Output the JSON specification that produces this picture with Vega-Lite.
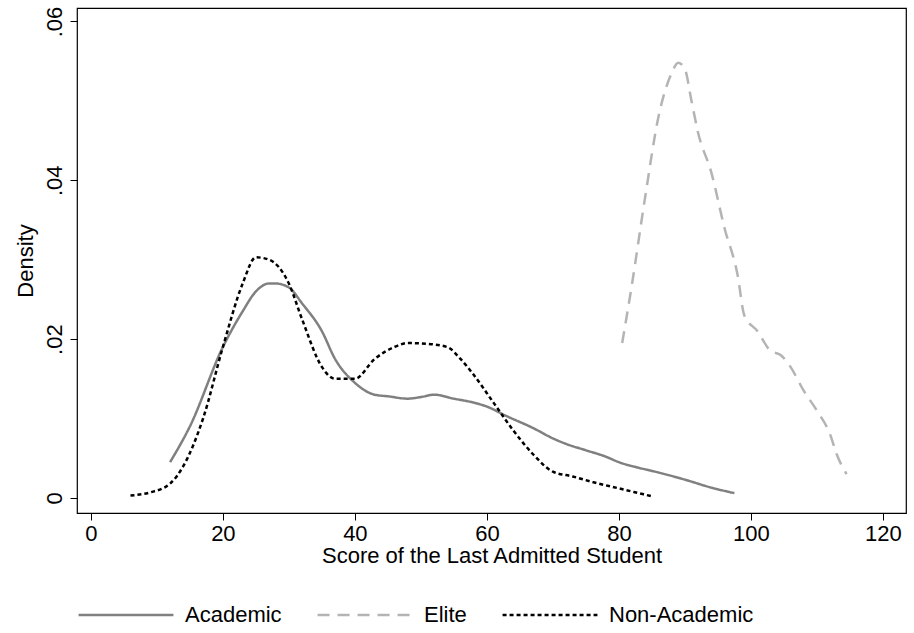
{
  "$schema": "https://vega.github.io/schema/vega-lite/v6.json",
  "width": 829,
  "height": 505,
  "autosize": "none",
  "padding": {"left": 77, "top": 8, "right": 7, "bottom": 120},
  "background": "white",
  "data": {
    "values": [
      {"group": "Academic", "score": 12, "density": 0.0045},
      {"group": "Academic", "score": 15, "density": 0.009},
      {"group": "Academic", "score": 20, "density": 0.019},
      {"group": "Academic", "score": 23, "density": 0.0235},
      {"group": "Academic", "score": 25, "density": 0.026},
      {"group": "Academic", "score": 27, "density": 0.027},
      {"group": "Academic", "score": 28, "density": 0.027},
      {"group": "Academic", "score": 30, "density": 0.0265},
      {"group": "Academic", "score": 32, "density": 0.0245},
      {"group": "Academic", "score": 35, "density": 0.021},
      {"group": "Academic", "score": 37, "density": 0.0175},
      {"group": "Academic", "score": 40, "density": 0.0145},
      {"group": "Academic", "score": 43, "density": 0.013},
      {"group": "Academic", "score": 45, "density": 0.0128},
      {"group": "Academic", "score": 48, "density": 0.0125},
      {"group": "Academic", "score": 50, "density": 0.0127},
      {"group": "Academic", "score": 52, "density": 0.013},
      {"group": "Academic", "score": 55, "density": 0.0125},
      {"group": "Academic", "score": 58, "density": 0.012},
      {"group": "Academic", "score": 60, "density": 0.0115},
      {"group": "Academic", "score": 63, "density": 0.0103},
      {"group": "Academic", "score": 67, "density": 0.0088},
      {"group": "Academic", "score": 70, "density": 0.0075},
      {"group": "Academic", "score": 72, "density": 0.0068},
      {"group": "Academic", "score": 75, "density": 0.006},
      {"group": "Academic", "score": 78, "density": 0.0052},
      {"group": "Academic", "score": 80, "density": 0.0045},
      {"group": "Academic", "score": 83, "density": 0.0038},
      {"group": "Academic", "score": 86, "density": 0.0032},
      {"group": "Academic", "score": 90, "density": 0.0023},
      {"group": "Academic", "score": 94, "density": 0.0013},
      {"group": "Academic", "score": 97.5, "density": 0.0006},
      {"group": "Elite", "score": 80.5, "density": 0.0195},
      {"group": "Elite", "score": 82, "density": 0.027},
      {"group": "Elite", "score": 84, "density": 0.038},
      {"group": "Elite", "score": 86, "density": 0.048},
      {"group": "Elite", "score": 88, "density": 0.0535},
      {"group": "Elite", "score": 89, "density": 0.0548},
      {"group": "Elite", "score": 90, "density": 0.054},
      {"group": "Elite", "score": 91, "density": 0.05},
      {"group": "Elite", "score": 92, "density": 0.046},
      {"group": "Elite", "score": 94, "density": 0.041},
      {"group": "Elite", "score": 96, "density": 0.034},
      {"group": "Elite", "score": 98, "density": 0.028},
      {"group": "Elite", "score": 99, "density": 0.023},
      {"group": "Elite", "score": 101, "density": 0.021},
      {"group": "Elite", "score": 103, "density": 0.0185},
      {"group": "Elite", "score": 104.5, "density": 0.018},
      {"group": "Elite", "score": 106, "density": 0.0165},
      {"group": "Elite", "score": 108, "density": 0.0135},
      {"group": "Elite", "score": 110, "density": 0.011},
      {"group": "Elite", "score": 112, "density": 0.008},
      {"group": "Elite", "score": 113, "density": 0.0055},
      {"group": "Elite", "score": 114.5, "density": 0.003},
      {"group": "Non-Academic", "score": 6, "density": 0.0003},
      {"group": "Non-Academic", "score": 9, "density": 0.0007},
      {"group": "Non-Academic", "score": 12, "density": 0.0018},
      {"group": "Non-Academic", "score": 14, "density": 0.004},
      {"group": "Non-Academic", "score": 17, "density": 0.01},
      {"group": "Non-Academic", "score": 20, "density": 0.019},
      {"group": "Non-Academic", "score": 23, "density": 0.027},
      {"group": "Non-Academic", "score": 25, "density": 0.0303},
      {"group": "Non-Academic", "score": 27, "density": 0.03},
      {"group": "Non-Academic", "score": 30, "density": 0.027},
      {"group": "Non-Academic", "score": 32, "density": 0.0225},
      {"group": "Non-Academic", "score": 35, "density": 0.0165},
      {"group": "Non-Academic", "score": 37, "density": 0.015},
      {"group": "Non-Academic", "score": 40, "density": 0.015},
      {"group": "Non-Academic", "score": 43, "density": 0.0175},
      {"group": "Non-Academic", "score": 46, "density": 0.019},
      {"group": "Non-Academic", "score": 48, "density": 0.0195},
      {"group": "Non-Academic", "score": 51, "density": 0.0194},
      {"group": "Non-Academic", "score": 54, "density": 0.019},
      {"group": "Non-Academic", "score": 56, "density": 0.0175},
      {"group": "Non-Academic", "score": 58, "density": 0.0155},
      {"group": "Non-Academic", "score": 61, "density": 0.012},
      {"group": "Non-Academic", "score": 64, "density": 0.0085},
      {"group": "Non-Academic", "score": 67, "density": 0.0055},
      {"group": "Non-Academic", "score": 70, "density": 0.0033},
      {"group": "Non-Academic", "score": 73, "density": 0.0027},
      {"group": "Non-Academic", "score": 76, "density": 0.002},
      {"group": "Non-Academic", "score": 80, "density": 0.0012},
      {"group": "Non-Academic", "score": 83, "density": 0.0006},
      {"group": "Non-Academic", "score": 85, "density": 0.0002}
    ]
  },
  "mark": {"type": "line", "strokeWidth": 2.5, "interpolate": "monotone"},
  "encoding": {
    "x": {
      "field": "score", "type": "quantitative",
      "title": "Score of the Last Admitted Student",
      "scale": {"domain": [-2.1, 123.5], "nice": false, "zero": false},
      "axis": {"values": [0, 20, 40, 60, 80, 100, 120], "grid": false, "tickSize": 7, "labelPadding": 3, "titlePadding": 1}
    },
    "y": {
      "field": "density", "type": "quantitative",
      "title": "Density",
      "scale": {"domain": [-0.0019, 0.0617], "nice": false, "zero": false},
      "axis": {
        "values": [0, 0.02, 0.04, 0.06], "grid": false, "tickSize": 7,
        "labelAngle": -90, "labelAlign": "center", "labelBaseline": "bottom", "labelPadding": 4,
        "labelExpr": "datum.value == 0 ? '0' : replace(format(datum.value, '.2f'), '0.', '.')",
        "titlePadding": 6
      }
    },
    "color": {
      "field": "group", "type": "nominal", "title": null,
      "scale": {"domain": ["Academic", "Elite", "Non-Academic"], "range": ["#808080", "#b4b4b4", "#000000"]},
      "legend": {"orient": "bottom", "direction": "horizontal", "symbolType": "stroke", "symbolSize": 9000, "symbolStrokeWidth": 2.5, "columnPadding": 30, "labelOffset": 10, "offset": 0, "padding": 0}
    },
    "strokeDash": {
      "field": "group", "type": "nominal", "title": null,
      "scale": {"domain": ["Academic", "Elite", "Non-Academic"], "range": [[1, 0], [12, 8], [4, 3]]}
    }
  },
  "config": {
    "font": "Liberation Sans",
    "view": {"stroke": "black", "strokeWidth": 1.2},
    "axis": {"labelFontSize": 22, "titleFontSize": 22, "labelColor": "black", "titleColor": "black", "titleFontWeight": "normal", "domain": false, "tickColor": "black"},
    "legend": {"labelFontSize": 22, "labelColor": "black"}
  }
}
